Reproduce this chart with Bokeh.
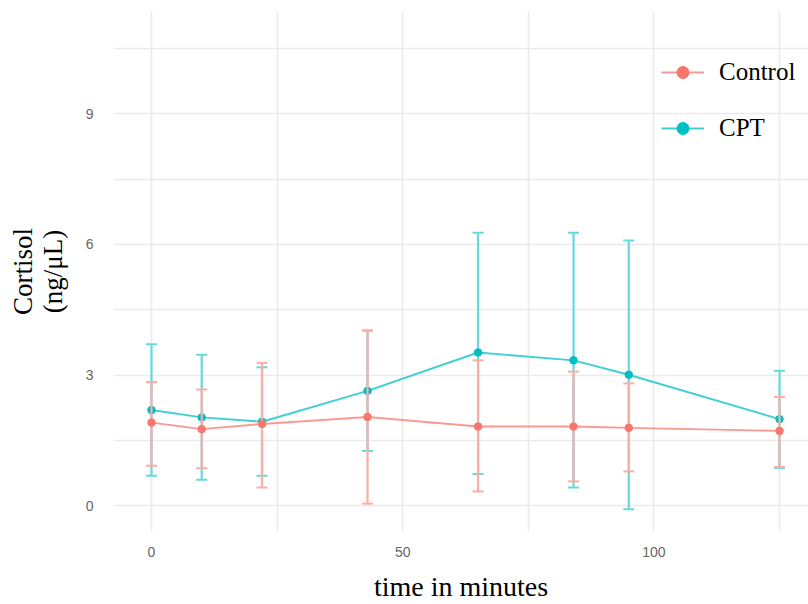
from bokeh.plotting import figure
from bokeh.models import ColumnDataSource, Range1d, FixedTicker, Legend, LegendItem
from bokeh.embed import file_html
from bokeh.resources import INLINE

# ---- data ----
time_min = [0, 10, 22, 43, 65, 84, 95, 125]

control_mean = [1.91, 1.76, 1.88, 2.04, 1.82, 1.82, 1.79, 1.72]
control_upper = [2.84, 2.67, 3.28, 4.03, 3.34, 3.08, 2.81, 2.50]
control_lower = [0.92, 0.86, 0.42, 0.05, 0.33, 0.56, 0.79, 0.89]

cpt_mean = [2.20, 2.03, 1.93, 2.64, 3.52, 3.34, 3.01, 1.99]
cpt_upper = [3.71, 3.47, 3.18, 4.02, 6.27, 6.27, 6.09, 3.10]
cpt_lower = [0.69, 0.60, 0.69, 1.26, 0.73, 0.42, -0.08, 0.87]

x_ticks = [0, 50, 100]
x_minor = [25, 75, 125]
y_ticks = [0, 3, 6, 9]
y_minor = [1.5, 4.5, 7.5, 10.5]

groups = ["Control", "CPT"]
point_colors = {"Control": "#F8766D", "CPT": "#00BFC4"}
line_colors = {"Control": "#FA9892", "CPT": "#40CFD3"}
bar_colors = {"Control": "#FBADA7", "CPT": "#66D9DC"}

p = figure(width=808, height=604, output_backend="svg", toolbar_location=None,
           x_range=Range1d(-7.56, 130.77), y_range=Range1d(-0.59, 11.35),
           min_border_left=113, min_border_right=0, min_border_top=11,
           min_border_bottom=72)
p.outline_line_color = None
p.background_fill_color = "white"
p.border_fill_color = "white"

p.xaxis.ticker = FixedTicker(ticks=x_ticks, minor_ticks=x_minor)
p.yaxis.ticker = FixedTicker(ticks=y_ticks, minor_ticks=y_minor)

for g in (p.xgrid, p.ygrid):
    g.grid_line_color = "#EBEBEB"
    g.grid_line_width = 1.6
    g.minor_grid_line_color = "#EBEBEB"
    g.minor_grid_line_width = 1.6

for ax in (p.xaxis, p.yaxis):
    ax.axis_line_color = None
    ax.major_tick_line_color = None
    ax.minor_tick_line_color = None
    ax.major_label_text_font = "Liberation Sans"
    ax.major_label_text_font_size = "14px"
    ax.major_label_text_color = "#666666"
    ax.axis_label_text_font = "Liberation Serif"
    ax.axis_label_text_font_style = "normal"
    ax.axis_label_text_color = "black"

p.xaxis.axis_label = "time in minutes"
p.xaxis.axis_label_text_font_size = "28px"
p.xaxis.axis_label_text_line_height = 1.0
p.xaxis.major_label_standoff = 9
p.xaxis.axis_label_standoff = 11

p.yaxis.axis_label = "Cortisol\n(ng/\u03bcL)"
p.yaxis.axis_label_text_font_size = "27px"
p.yaxis.axis_label_text_line_height = 1.0
p.yaxis.major_label_standoff = 14
p.yaxis.axis_label_standoff = 15

data = {
    "CPT": (cpt_mean, cpt_upper, cpt_lower),
    "Control": (control_mean, control_upper, control_lower),
}

rends = {}
for g in ["CPT", "Control"]:
    mean, up, lo = data[g]
    src = ColumnDataSource(dict(x=time_min, y=mean, up=up, lo=lo))
    bc = bar_colors[g]
    p.segment(x0="x", y0="lo", x1="x", y1="up", source=src,
              line_color=bc, line_width=2.2)
    p.scatter(x="x", y="up", source=src, marker="dash", size=11,
              line_color=bc, line_width=2)
    p.scatter(x="x", y="lo", source=src, marker="dash", size=11,
              line_color=bc, line_width=2)
    ln = p.line(x="x", y="y", source=src, line_color=line_colors[g],
                line_width=1.9)
    pt = p.scatter(x="x", y="y", source=src, size=7.5,
                   fill_color=point_colors[g], line_color=point_colors[g])
    rends[g] = (ln, pt)

legend = Legend(
    items=[LegendItem(label=g, renderers=list(rends[g])) for g in groups],
    location=(548, 388),
    border_line_color=None,
    background_fill_alpha=0,
    label_text_font="Liberation Serif",
    label_text_font_size="25px",
    label_text_color="black",
    glyph_width=43, glyph_height=30, label_height=30,
    label_standoff=15, spacing=26, padding=0, margin=0,
)
p.add_layout(legend)

open("out.html", "w").write(file_html(p, INLINE))
